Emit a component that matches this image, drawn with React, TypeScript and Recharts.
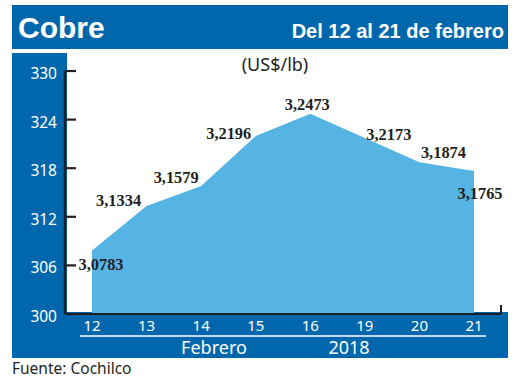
import React from "react";
import { AreaChart, Area, XAxis, YAxis, LabelList } from "recharts";

const days = ["12", "13", "14", "15", "16", "19", "20", "21"];
const prices = [307.83, 313.34, 315.79, 321.96, 324.73, 321.73, 318.74, 317.65];
const yTicks = [300, 306, 312, 318, 324, 330];
const title = "Cobre";
const subtitle = "Del 12 al 21 de febrero";
const unit = "(US$/lb)";
const monthLabel = "Febrero";
const yearLabel = "2018";
const source = "Fuente: Cochilco";

// label placement (style only): offsets from each point
const labelOffsets: [number, number][] = [
  [9, 13], [-28, -6], [-25, -9], [-27, -3], [-3, -10], [24, -4], [24, -10], [6, 22],
];

const data = days.map((d, i) => ({ day: d, price: prices[i] }));

const BLUE = "#0067AC";
const AREA = "#56B4E4";
const INK = "#231F20";

const YTick = (props: any) => {
  const { x, y, payload } = props;
  return (
    <g>
      <line x1={x + 8} x2={x + 19} y1={y} y2={y} stroke={INK} strokeWidth={2.2} />
      <text x={x} y={y + 8} textAnchor="end" fill="#fff" fontSize={15.5} fontFamily="Noto Sans">
        {payload.value}
      </text>
    </g>
  );
};

const XTick = (props: any) => {
  const { x, y, payload } = props;
  return (
    <text x={x} y={y + 17} textAnchor="middle" fill="#fff" fontSize={15} fontFamily="Noto Sans">
      {payload.value}
    </text>
  );
};

const PriceLabel = (props: any) => {
  const { x, y, value, index } = props;
  const [dx, dy] = labelOffsets[index] || [0, -10];
  const txt = (Number(value) / 100).toFixed(4).replace(".", ",");
  return (
    <text
      x={x + dx}
      y={y + dy + 6}
      textAnchor="middle"
      fill={INK}
      fontSize={17.5}
      fontWeight="bold"
      fontFamily="Liberation Serif"
      textLength={45}
      lengthAdjust="spacingAndGlyphs"
    >
      {txt}
    </text>
  );
};

export default function App() {
  return (
    <div style={{ position: "absolute", left: 0, top: 0, width: 520, height: 390, background: "#fff" }}>
      <svg width={520} height={390} style={{ position: "absolute", left: 0, top: 0 }}>
        <rect x={12} y={5} width={496} height={44} fill={BLUE} />
        <text x={18} y={38} fill="#fff" fontSize={30} fontWeight="bold" fontFamily="Liberation Sans">
          {title}
        </text>
        <text x={504} y={38} textAnchor="end" fill="#fff" fontSize={20} fontWeight="bold" fontFamily="Liberation Sans">
          {subtitle}
        </text>
        <rect x={12} y={53} width={55} height={305} fill={BLUE} />
        <rect x={12} y={312} width={496} height={46} fill={BLUE} />
        <line x1={80} x2={486} y1={336} y2={336} stroke="#fff" strokeWidth={1.5} />
        <text x={214} y={354} textAnchor="middle" fill="#fff" fontSize={18} fontFamily="Noto Sans">
          {monthLabel}
        </text>
        <text x={349} y={354} textAnchor="middle" fill="#fff" fontSize={18} fontFamily="Noto Sans">
          {yearLabel}
        </text>
        <text x={12} y={374} fill={INK} fontSize={15.5} fontFamily="Noto Sans">
          {source}
        </text>
        <text x={275} y={71} textAnchor="middle" fill={INK} fontSize={18} fontFamily="Noto Sans">
          {unit}
        </text>
        <line x1={501} x2={501} y1={305} y2={314} stroke={INK} strokeWidth={2} />
      </svg>
      <div style={{ position: "absolute", left: 0, top: 0 }}>
        <AreaChart
          width={520}
          height={390}
          data={data}
          margin={{ top: 71, right: 19, left: 12, bottom: 46 }}
        >
          <YAxis
            domain={[300, 330]}
            ticks={yTicks}
            width={53}
            interval={0}
            axisLine={{ stroke: INK, strokeWidth: 2.5 }}
            tickLine={false}
            tickSize={0}
            tickMargin={8}
            tick={<YTick />}
          />
          <XAxis
            dataKey="day"
            height={30}
            padding={{ left: 27, right: 27 }}
            interval={0}
            axisLine={{ stroke: INK, strokeWidth: 2 }}
            tickLine={false}
            tickSize={0}
            tickMargin={0}
            tick={<XTick />}
          />
          <Area
            type="linear"
            dataKey="price"
            stroke="none"
            fill={AREA}
            fillOpacity={1}
            isAnimationActive={false}
          >
            <LabelList dataKey="price" content={<PriceLabel />} />
          </Area>
        </AreaChart>
      </div>
    </div>
  );
}
